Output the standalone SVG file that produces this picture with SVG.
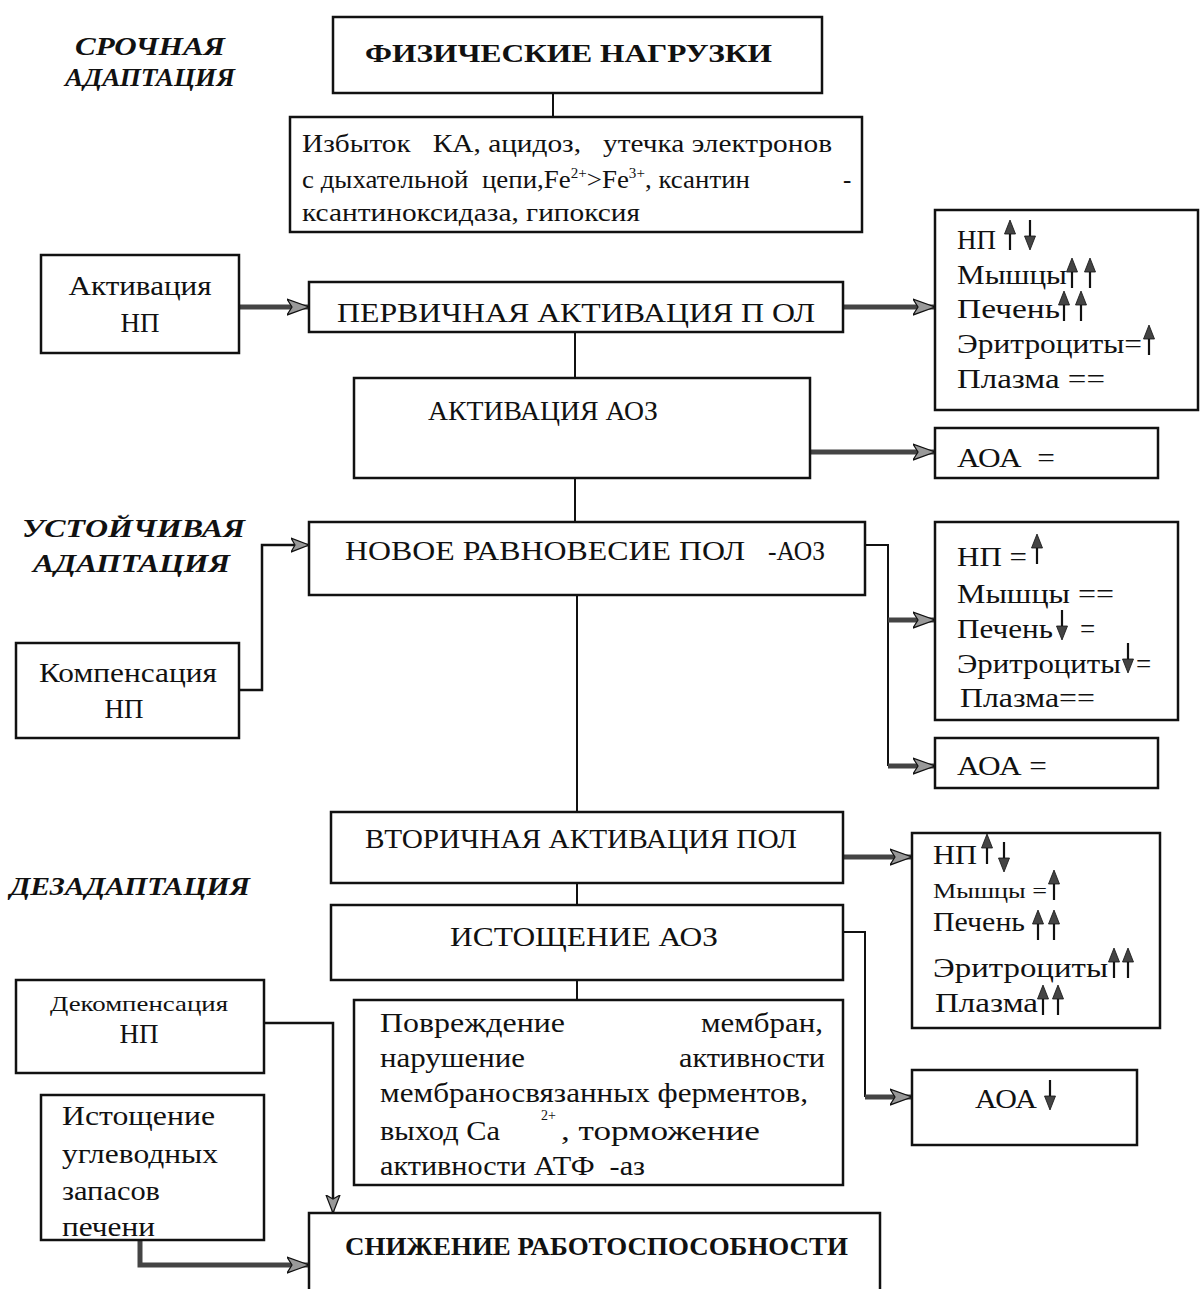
<svg xmlns="http://www.w3.org/2000/svg" xmlns:xlink="http://www.w3.org/1999/xlink" width="1200" height="1289" viewBox="0 0 1200 1289">
<style>
.box{fill:#fff;stroke:#111;stroke-width:2.5}
.t{font-family:"Liberation Serif","Times New Roman",serif;font-size:27px;fill:#111}
.b{font-weight:bold}
.it{font-family:"Liberation Serif","Times New Roman",serif;font-size:25px;font-style:italic;font-weight:bold;fill:#111}
.sup{font-size:14px}
.pre{white-space:pre}
.thin{stroke:#111;stroke-width:2;fill:none}
.thick{stroke:#444;stroke-width:5;fill:none;marker-end:url(#big)}
.thinarr{stroke:#111;stroke-width:2.5;fill:none;marker-end:url(#small)}
</style>
<defs>
<marker id="big" markerUnits="userSpaceOnUse" markerWidth="24" markerHeight="18" refX="22" refY="9" orient="auto">
<path d="M0,1 L22,9 L0,17 L5,9 Z" fill="#999" stroke="#111" stroke-width="1.2"/>
</marker>
<marker id="small" markerUnits="userSpaceOnUse" markerWidth="20" markerHeight="16" refX="18" refY="8" orient="auto">
<path d="M0,1 L18,8 L0,15 L4,8 Z" fill="#999" stroke="#111" stroke-width="1.2"/>
</marker>
<g id="up"><line x1="0" y1="0" x2="0" y2="-20" stroke="#111" stroke-width="2.2"/><path d="M0,-30 L-5.5,-16 L5.5,-16 Z" fill="#444" stroke="#111" stroke-width="0.8"/></g>
<g id="down"><line x1="0" y1="0" x2="0" y2="20" stroke="#111" stroke-width="2.2"/><path d="M0,30 L-5.5,16 L5.5,16 Z" fill="#444" stroke="#111" stroke-width="0.8"/></g>
</defs>
<rect width="1200" height="1289" fill="#fff"/>

<g id="labels">
<text class="it" x="75" y="55" textLength="150" lengthAdjust="spacingAndGlyphs">СРОЧНАЯ</text>
<text class="it" x="65" y="86" textLength="170" lengthAdjust="spacingAndGlyphs">АДАПТАЦИЯ</text>
<text class="it" x="22" y="537" textLength="223" lengthAdjust="spacingAndGlyphs">УСТОЙЧИВАЯ</text>
<text class="it" x="33" y="572" textLength="197" lengthAdjust="spacingAndGlyphs">АДАПТАЦИЯ</text>
<text class="it" x="10" y="895" textLength="240" lengthAdjust="spacingAndGlyphs">ДЕЗАДАПТАЦИЯ</text>
</g>

<g id="connectors">
<line class="thin" x1="553" y1="93" x2="553" y2="117"/>
<line class="thin" x1="575" y1="332" x2="575" y2="378"/>
<line class="thin" x1="575" y1="478" x2="575" y2="522"/>
<line class="thin" x1="577" y1="595" x2="577" y2="812"/>
<line class="thin" x1="577" y1="883" x2="577" y2="905"/>
<line class="thin" x1="577" y1="980" x2="577" y2="1000"/>
<line class="thick" x1="239" y1="307" x2="309" y2="307"/>
<line class="thick" x1="843" y1="307" x2="935" y2="307"/>
<line class="thick" x1="810" y1="452" x2="935" y2="452"/>
<polyline class="thinarr" points="239,690 262,690 262,545 309,545"/>
<polyline class="thin" points="865,545 888,545 888,766"/>
<line class="thick" x1="888" y1="620" x2="935" y2="620"/>
<line class="thick" x1="888" y1="766" x2="935" y2="766"/>
<line class="thick" x1="843" y1="857" x2="912" y2="857"/>
<polyline class="thin" points="843,932 865,932 865,1097"/>
<line class="thick" x1="865" y1="1097" x2="912" y2="1097"/>
<polyline class="thinarr" points="264,1023 333,1023 333,1213"/>
<polyline class="thick" points="140,1240 140,1265 309,1265"/>
</g>

<g id="n-fiz">
<rect class="box" x="333" y="17" width="489" height="76"/>
<text class="t b" x="365" y="62" style="font-size:26px" textLength="407" lengthAdjust="spacingAndGlyphs">ФИЗИЧЕСКИЕ НАГРУЗКИ</text>
</g>

<g id="n-izb">
<rect class="box" x="290" y="117" width="572" height="115"/>
<text class="t pre" x="302" y="152" style="font-size:25px" textLength="530" lengthAdjust="spacingAndGlyphs">Избыток   КА, ацидоз,   утечка электронов</text>
<text class="t pre" x="302" y="188" style="font-size:25px" textLength="448" lengthAdjust="spacingAndGlyphs">с дыхательной  цепи,Fe<tspan class="sup" dy="-10">2+</tspan><tspan dy="10">&gt;Fe</tspan><tspan class="sup" dy="-10">3+</tspan><tspan dy="10">, ксантин</tspan></text>
<text class="t" x="843" y="188" style="font-size:25px">-</text>
<text class="t" x="302" y="221" style="font-size:25px" textLength="338" lengthAdjust="spacingAndGlyphs">ксантиноксидаза, гипоксия</text>
</g>

<g id="n-aktnp">
<rect class="box" x="41" y="255" width="198" height="98"/>
<text class="t" x="140" y="295" text-anchor="middle" textLength="143" lengthAdjust="spacingAndGlyphs">Активация</text>
<text class="t" x="140" y="332" text-anchor="middle">НП</text>
</g>

<g id="n-perv">
<rect class="box" x="309" y="282" width="534" height="50"/>
<text class="t" x="337" y="322" style="font-size:28px" textLength="478" lengthAdjust="spacingAndGlyphs">ПЕРВИЧНАЯ АКТИВАЦИЯ П ОЛ</text>
</g>

<g id="n-r1">
<rect class="box" x="935" y="210" width="263" height="200"/>
<text class="t" x="957" y="249">НП</text>
<use xlink:href="#up" x="1010" y="250"/>
<use xlink:href="#down" x="1030" y="220"/>
<text class="t" x="957" y="284" textLength="110" lengthAdjust="spacingAndGlyphs">Мышцы</text>
<use xlink:href="#up" x="1072" y="288"/>
<use xlink:href="#up" x="1090" y="288"/>
<text class="t" x="957" y="318" textLength="103" lengthAdjust="spacingAndGlyphs">Печень</text>
<use xlink:href="#up" x="1064" y="321"/>
<use xlink:href="#up" x="1081" y="321"/>
<text class="t" x="957" y="353" textLength="185" lengthAdjust="spacingAndGlyphs">Эритроциты=</text>
<use xlink:href="#up" x="1149" y="355"/>
<text class="t" x="957" y="388" textLength="148" lengthAdjust="spacingAndGlyphs">Плазма ==</text>
</g>

<g id="n-aoz">
<rect class="box" x="354" y="378" width="456" height="100"/>
<text class="t" x="428" y="420" textLength="230" lengthAdjust="spacingAndGlyphs">АКТИВАЦИЯ АОЗ</text>
</g>

<g id="n-aoa1">
<rect class="box" x="935" y="428" width="223" height="50"/>
<text class="t pre" x="957" y="467" textLength="98" lengthAdjust="spacingAndGlyphs">АОА  =</text>
</g>

<g id="n-nov">
<rect class="box" x="309" y="522" width="556" height="73"/>
<text class="t" x="345" y="560" textLength="400" lengthAdjust="spacingAndGlyphs">НОВОЕ РАВНОВЕСИЕ ПОЛ</text>
<text class="t" x="768" y="560" textLength="57" lengthAdjust="spacingAndGlyphs">-АОЗ</text>
</g>

<g id="n-komp">
<rect class="box" x="16" y="643" width="223" height="95"/>
<text class="t" x="128" y="682" text-anchor="middle" textLength="178" lengthAdjust="spacingAndGlyphs">Компенсация</text>
<text class="t" x="124" y="718" text-anchor="middle">НП</text>
</g>

<g id="n-r2">
<rect class="box" x="935" y="522" width="243" height="198"/>
<text class="t" x="957" y="566" textLength="70" lengthAdjust="spacingAndGlyphs">НП =</text>
<use xlink:href="#up" x="1037" y="564"/>
<text class="t" x="957" y="603" textLength="157" lengthAdjust="spacingAndGlyphs">Мышцы ==</text>
<text class="t" x="957" y="638" textLength="96" lengthAdjust="spacingAndGlyphs">Печень</text>
<use xlink:href="#down" x="1062" y="610"/>
<text class="t" x="1080" y="638">=</text>
<text class="t" x="957" y="673" textLength="164" lengthAdjust="spacingAndGlyphs">Эритроциты</text>
<use xlink:href="#down" x="1128" y="643"/>
<text class="t" x="1136" y="673">=</text>
<text class="t" x="960" y="707" textLength="135" lengthAdjust="spacingAndGlyphs">Плазма==</text>
</g>

<g id="n-aoa2">
<rect class="box" x="935" y="738" width="223" height="50"/>
<text class="t" x="957" y="775" textLength="90" lengthAdjust="spacingAndGlyphs">АОА =</text>
</g>

<g id="n-vtor">
<rect class="box" x="331" y="812" width="512" height="71"/>
<text class="t" x="365" y="848" textLength="432" lengthAdjust="spacingAndGlyphs">ВТОРИЧНАЯ АКТИВАЦИЯ ПОЛ</text>
</g>

<g id="n-r3">
<rect class="box" x="912" y="833" width="248" height="195"/>
<text class="t" x="933" y="864" textLength="44" lengthAdjust="spacingAndGlyphs">НП</text>
<use xlink:href="#up" x="987" y="864"/>
<use xlink:href="#down" x="1004" y="842"/>
<text class="t" x="933" y="898" style="font-size:21px" textLength="114" lengthAdjust="spacingAndGlyphs">Мышцы =</text>
<use xlink:href="#up" x="1054" y="900"/>
<text class="t" x="933" y="931" textLength="92" lengthAdjust="spacingAndGlyphs">Печень</text>
<use xlink:href="#up" x="1038" y="940"/>
<use xlink:href="#up" x="1054" y="940"/>
<text class="t" x="933" y="977" textLength="175" lengthAdjust="spacingAndGlyphs">Эритроциты</text>
<use xlink:href="#up" x="1114" y="978"/>
<use xlink:href="#up" x="1128" y="978"/>
<text class="t" x="935" y="1012" textLength="103" lengthAdjust="spacingAndGlyphs">Плазма</text>
<use xlink:href="#up" x="1043" y="1015"/>
<use xlink:href="#up" x="1058" y="1015"/>
</g>

<g id="n-ist">
<rect class="box" x="331" y="905" width="512" height="75"/>
<text class="t" x="450" y="946" textLength="268" lengthAdjust="spacingAndGlyphs">ИСТОЩЕНИЕ АОЗ</text>
</g>

<g id="n-aoa3">
<rect class="box" x="912" y="1070" width="225" height="75"/>
<text class="t" x="975" y="1108" textLength="62" lengthAdjust="spacingAndGlyphs">АОА</text>
<use xlink:href="#down" x="1050" y="1080"/>
</g>

<g id="n-povr">
<rect class="box" x="354" y="1000" width="489" height="185"/>
<text class="t" x="380" y="1032" textLength="185" lengthAdjust="spacingAndGlyphs">Повреждение</text>
<text class="t" x="823" y="1032" text-anchor="end" textLength="122" lengthAdjust="spacingAndGlyphs">мембран,</text>
<text class="t" x="380" y="1067" textLength="145" lengthAdjust="spacingAndGlyphs">нарушение</text>
<text class="t" x="825" y="1067" text-anchor="end" textLength="146" lengthAdjust="spacingAndGlyphs">активности</text>
<text class="t" x="380" y="1102" textLength="428" lengthAdjust="spacingAndGlyphs">мембраносвязанных ферментов,</text>
<text class="t" x="380" y="1140" textLength="120" lengthAdjust="spacingAndGlyphs">выход Са</text>
<text class="t sup" x="541" y="1120">2+</text>
<text class="t" x="561" y="1140" textLength="199" lengthAdjust="spacingAndGlyphs">, торможение</text>
<text class="t pre" x="380" y="1175" textLength="265" lengthAdjust="spacingAndGlyphs">активности АТФ  -аз</text>
</g>

<g id="n-dekomp">
<rect class="box" x="16" y="980" width="248" height="93"/>
<text class="t" x="139" y="1011" style="font-size:21px" text-anchor="middle" textLength="178" lengthAdjust="spacingAndGlyphs">Декомпенсация</text>
<text class="t" x="139" y="1043" text-anchor="middle">НП</text>
</g>

<g id="n-uglev">
<rect class="box" x="41" y="1095" width="223" height="145"/>
<text class="t" x="62" y="1125" textLength="153" lengthAdjust="spacingAndGlyphs">Истощение</text>
<text class="t" x="62" y="1163" textLength="156" lengthAdjust="spacingAndGlyphs">углеводных</text>
<text class="t" x="62" y="1200" textLength="98" lengthAdjust="spacingAndGlyphs">запасов</text>
<text class="t" x="62" y="1236" textLength="93" lengthAdjust="spacingAndGlyphs">печени</text>
</g>

<g id="n-snizh">
<rect class="box" x="309" y="1213" width="571" height="100"/>
<text class="t b" x="345" y="1255" style="font-size:25px" textLength="503" lengthAdjust="spacingAndGlyphs">СНИЖЕНИЕ РАБОТОСПОСОБНОСТИ</text>
</g>
</svg>
